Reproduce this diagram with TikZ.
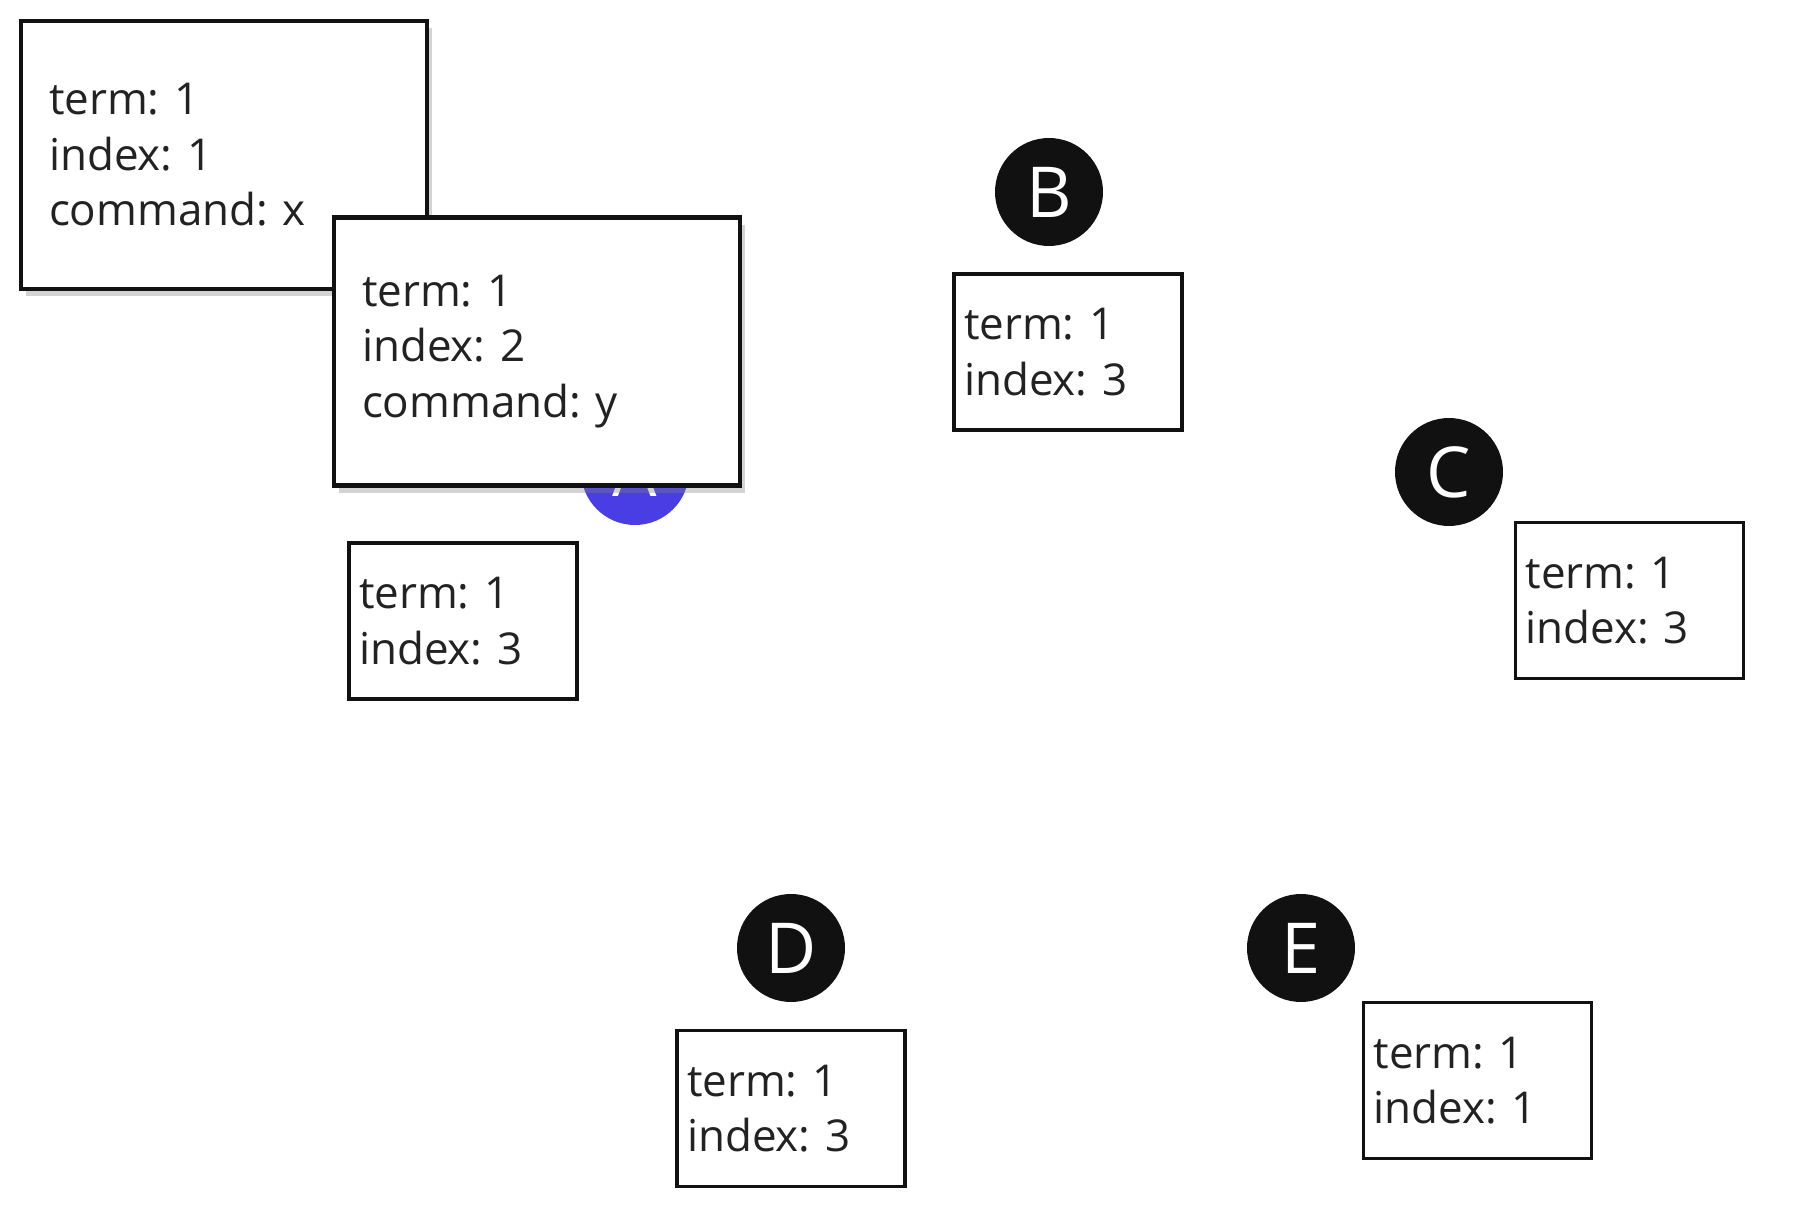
\documentclass[tikz,border=0pt]{standalone}
\usepackage{fontspec}
\setmainfont{Open Sans}
\usepackage{xcolor}
\usepackage{tikz}
\usetikzlibrary{shadows}
\definecolor{figink}{RGB}{17,17,17}
\definecolor{figtext}{RGB}{34,34,34}
\definecolor{figleader}{RGB}{72,62,228}
\tikzstyle{server} = [circle, fill=figink, text=white, minimum size=1.08cm, inner sep=0pt, font=\fontsize{20}{20}\selectfont]
\tikzstyle{leader} = [server, fill=figleader]
\tikzstyle{entry} = [draw=figink, line width=1.1pt, fill=white, text=figtext, minimum width=2.28cm, minimum height=1.56cm, inner xsep=0.1cm, text width=2.08cm, align=left, font=\fontsize{12.5}{15.8}\selectfont\frenchspacing]
\tikzstyle{logentry} = [entry, line width=1.3pt, minimum width=4.06cm, minimum height=2.68cm, inner xsep=0.28cm, text width=3.5cm, drop shadow={shadow xshift=1.5pt, shadow yshift=-2pt, opacity=0.35}]

\begin{document}
\begin{tikzpicture}
    \useasboundingbox (0,0) rectangle (18,-12.24);
    % servers and their logs
    \node[leader] (A) at (6.35,-4.71) {A};
    \node[entry] (A log) at (4.63,-6.21) {term: 1\\index: 3};
    \node[server] (B) at (10.49,-1.92) {B};
    \node[entry] (B log) at (10.68,-3.52) {term: 1\\index: 3};
    \node[server] (C) at (14.49,-4.72) {C};
    \node[entry] (C log) at (16.295,-6.005) {term: 1\\index: 3};
    \node[server] (D) at (7.91,-9.48) {D};
    \node[entry] (D log) at (7.91,-11.085) {term: 1\\index: 3};
    \node[server] (E) at (13.01,-9.48) {E};
    \node[entry] (E log) at (14.775,-10.805) {term: 1\\index: 1};
    % client requests
    \node[logentry] (req x) at (2.24,-1.55) {term: 1\\index: 1\\command: x};
    \node[logentry] (req y) at (5.37,-3.515) {term: 1\\index: 2\\command: y};
\end{tikzpicture}
\end{document}
